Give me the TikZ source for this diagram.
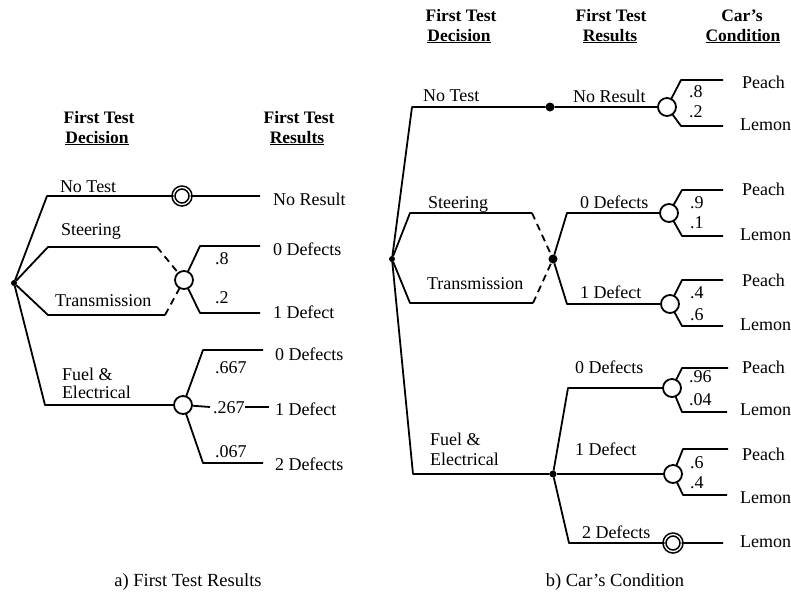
\documentclass[tikz,border=0pt]{standalone}
\usepackage{fontspec}
\setmainfont{Liberation Serif}
\begin{document}
\begin{tikzpicture}[x=1pt,y=-1pt,
  every node/.style={inner sep=0pt, outer sep=0pt},
  link/.style={line width=1.8pt, line join=round},
  dashlink/.style={link, dash pattern=on 7pt off 5pt},
  chance/.style={circle, draw, fill=white, minimum size=18pt, line width=1.8pt},
  terminal/.style={circle, draw, fill=white, minimum size=17pt, line width=1.6pt, double, double distance=1.3pt},
  decdot/.style={circle, fill, minimum size=#1},
  decdot/.default=9pt,
  lbl/.style={anchor=base west, font=\fontsize{18}{20}\selectfont},
  hdr/.style={anchor=base, font=\fontsize{17.5}{20}\selectfont\bfseries},
  captext/.style={anchor=base, font=\fontsize{18.5}{20}\selectfont}]
\useasboundingbox (0,0) rectangle (791,595);

% ---------------- a) First Test Results ----------------
\node[hdr] (ha1) at (99,123) {First Test};
\node[hdr] (ha2) at (97,143) {\underline{Decision}};
\node[hdr] (ha3) at (299,123) {First Test};
\node[hdr] (ha4) at (297,143) {\underline{Results}};

\node[decdot=6pt] (ra) at (14,283) {};
\node[terminal] (ca1) at (182,196) {};
\node[chance] (ca2) at (184,280) {};
\node[chance] (ca3) at (183,405) {};

\coordinate (aNTend) at (260,196);
\draw[link] (ra) -- (47,196) -- (ca1) -- (aNTend);
\draw[link] (ra) -- (48,247) -- (157,247);
\draw[dashlink] (157,247) -- (ca2);
\draw[link] (ra) -- (48,315) -- (165,315);
\draw[dashlink] (165,315) -- (ca2);
\draw[link] (ca2) -- (200,246) -- (260,246);
\draw[link] (ca2) -- (200,313) -- (260,313);
\draw[link] (ra) -- (45,405) -- (ca3);
\draw[link] (ca3) -- (203,350) -- (263,350);
\draw[link] (ca3) -- (210,407);
\coordinate (aMidA) at (245,407);
\coordinate (aMidB) at (269,407);
\draw[link] (aMidA) -- (aMidB);
\draw[link] (ca3) -- (203,463) -- (263,463);

\node[lbl] (la1) at (60,192) {No Test};
\node[lbl] (la2) at (61,235) {Steering};
\node[lbl] (la3) at (55,306) {Transmission};
\node[lbl] (la4) at (62,380) {Fuel \&};
\node[lbl] (la5) at (62,398) {Electrical};
\node[lbl] (la6) at (273,205) {No Result};
\node[lbl] (la7) at (273,255) {0 Defects};
\node[lbl] (la8) at (273,318) {1 Defect};
\node[lbl] (la9) at (215,264) {.8};
\node[lbl] (la10) at (215,303) {.2};
\node[lbl] (la11) at (275,360) {0 Defects};
\node[lbl] (la12) at (215,373) {.667};
\node[lbl] (la13) at (213,413) {.267};
\node[lbl] (la14) at (275,415) {1 Defect};
\node[lbl] (la15) at (215,457) {.067};
\node[lbl] (la16) at (275,470) {2 Defects};

\node[captext] (capa) at (188,586) {a) First Test Results};

% ---------------- b) Car's Condition ----------------
\node[hdr] (hb1) at (461,21) {First Test};
\node[hdr] (hb2) at (459,41) {\underline{Decision}};
\node[hdr] (hb3) at (611,21) {First Test};
\node[hdr] (hb4) at (610,41) {\underline{Results}};
\node[hdr] (hb5) at (742,21) {Car’s};
\node[hdr] (hb6) at (743,41) {\underline{Condition}};

\node[decdot=6pt] (rb) at (392,259) {};
\node[decdot] (bN) at (550,107) {};
\node[decdot] (bS) at (553,259) {};
\node[decdot=7pt] (bF) at (553,474) {};
\node[chance] (cb1) at (667,107) {};
\node[chance] (cb2) at (669,213) {};
\node[chance] (cb3) at (670,304) {};
\node[chance] (cb4) at (672,388) {};
\node[chance] (cb5) at (673,474) {};
\node[terminal] (tb) at (673,543) {};

% decision branches
\draw[link] (rb) -- (412,107) -- (bN) -- (cb1);
\draw[link] (rb) -- (410,213) -- (532,213);
\draw[dashlink] (532,213) -- (bS);
\draw[link] (rb) -- (410,303) -- (533,303);
\draw[dashlink] (533,303) -- (bS);
\draw[link] (rb) -- (413,474) -- (bF);

% test results
\draw[link] (bS) -- (567,213) -- (cb2);
\draw[link] (bS) -- (567,304) -- (cb3);
\draw[link] (bF) -- (568,388) -- (cb4);
\draw[link] (bF) -- (cb5);
\coordinate (bLast) at (723,543);
\draw[link] (bF) -- (569,543) -- (tb) -- (bLast);

% car's condition
\draw[link] (cb1) -- (681,80) -- (723,80);
\draw[link] (cb1) -- (681,126) -- (723,126);
\draw[link] (cb2) -- (682,190) -- (723,190);
\draw[link] (cb2) -- (682,236) -- (723,236);
\draw[link] (cb3) -- (682,280) -- (723,280);
\draw[link] (cb3) -- (682,326) -- (723,326);
\draw[link] (cb4) -- (682,368) -- (728,368);
\draw[link] (cb4) -- (682,412) -- (727,412);
\draw[link] (cb5) -- (683,449) -- (728,449);
\draw[link] (cb5) -- (683,495) -- (727,495);

\node[lbl] (lb1) at (423,101) {No Test};
\node[lbl] (lb2) at (573,102) {No Result};
\node[lbl] (lb3) at (428,208) {Steering};
\node[lbl] (lb4) at (427,289) {Transmission};
\node[lbl] (lb5) at (580,208) {0 Defects};
\node[lbl] (lb6) at (580,298) {1 Defect};
\node[lbl] (lb7) at (575,373) {0 Defects};
\node[lbl] (lb8) at (430,445) {Fuel \&};
\node[lbl] (lb9) at (430,465) {Electrical};
\node[lbl] (lb10) at (575,455) {1 Defect};
\node[lbl] (lb11) at (582,538) {2 Defects};

\node[lbl] (pb1) at (689,97) {.8};
\node[lbl] (pb2) at (689,117) {.2};
\node[lbl] (pb3) at (690,208) {.9};
\node[lbl] (pb4) at (690,228) {.1};
\node[lbl] (pb5) at (690,298) {.4};
\node[lbl] (pb6) at (690,320) {.6};
\node[lbl] (pb7) at (689,382) {.96};
\node[lbl] (pb8) at (689,405) {.04};
\node[lbl] (pb9) at (690,468) {.6};
\node[lbl] (pb10) at (690,488) {.4};

\node[lbl] (ob1) at (742,88) {Peach};
\node[lbl] (ob2) at (740,130) {Lemon};
\node[lbl] (ob3) at (742,195) {Peach};
\node[lbl] (ob4) at (740,240) {Lemon};
\node[lbl] (ob5) at (742,286) {Peach};
\node[lbl] (ob6) at (740,330) {Lemon};
\node[lbl] (ob7) at (742,373) {Peach};
\node[lbl] (ob8) at (740,415) {Lemon};
\node[lbl] (ob9) at (742,460) {Peach};
\node[lbl] (ob10) at (740,503) {Lemon};
\node[lbl] (ob11) at (740,547) {Lemon};

\node[captext] (capb) at (615,586) {b) Car’s Condition};
\end{tikzpicture}
\end{document}
